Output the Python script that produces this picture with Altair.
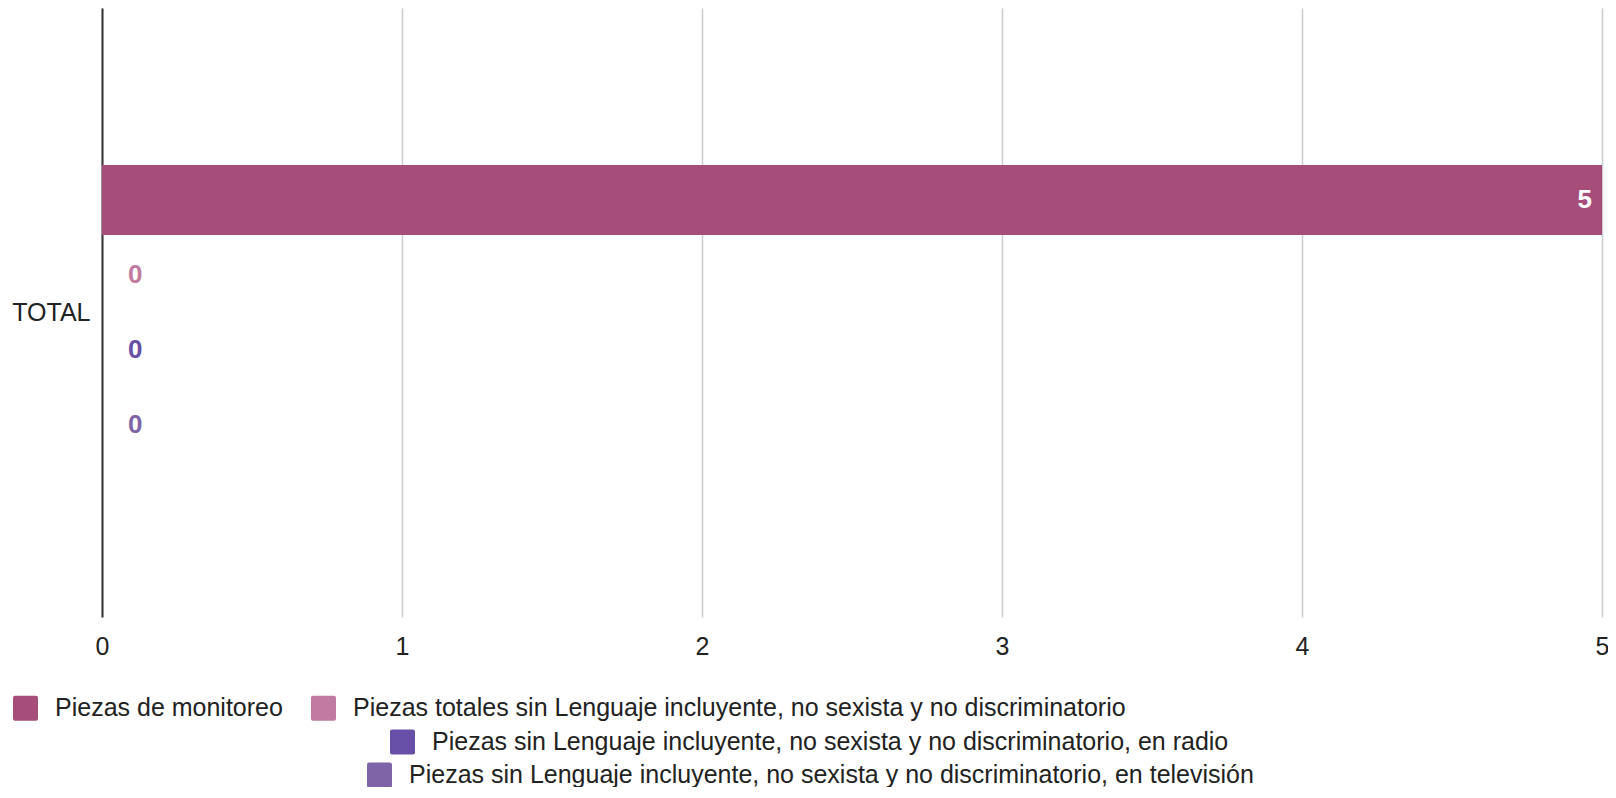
import altair as alt
import pandas as pd

# ---- data ----
categories = ["TOTAL"]
series = [
    "Piezas de monitoreo",
    "Piezas totales sin Lenguaje incluyente, no sexista y no discriminatorio",
    "Piezas sin Lenguaje incluyente, no sexista y no discriminatorio, en radio",
    "Piezas sin Lenguaje incluyente, no sexista y no discriminatorio, en televisión",
]
values = [5, 0, 0, 0]
x_ticks = [0, 1, 2, 3, 4, 5]

# ---- styles ----
colors = ["#a64d79", "#c27ba0", "#674ea7", "#8064a8"]
FONT = "Liberation Sans"
TXT = "#222222"
W, H = 1500, 609
ROUND_SQ = ("M-0.84,-1H0.84Q1,-1,1,-0.84V0.84Q1,1,0.84,1H-0.84"
            "Q-1,1,-1,0.84V-0.84Q-1,-1,-0.84,-1Z")

df = pd.DataFrame({
    "category": [categories[0]] * len(series),
    "series": series,
    "value": values,
})

x_enc = alt.X(
    "value:Q", title=None,
    scale=alt.Scale(domain=[0, 5], nice=False, zero=True),
    axis=alt.Axis(values=x_ticks, format="d", grid=True, gridColor="#cccccc",
                  gridWidth=1.5, domain=False, ticks=False, labelFont=FONT,
                  labelFontSize=25, labelColor=TXT, labelPadding=17,
                  labelFlush=False),
)
y_enc = alt.Y(
    "category:N", title=None,
    scale=alt.Scale(paddingInner=0, paddingOuter=0.515),
    axis=alt.Axis(domain=True, domainColor="#333333", domainWidth=2,
                  ticks=False, grid=False, labelFont=FONT, labelFontSize=25,
                  labelColor=TXT, labelPadding=12),
)
yoff_enc = alt.YOffset(
    "series:N", sort=series,
    scale=alt.Scale(domain=series, paddingInner=0.0667, paddingOuter=0.0333),
)

base = alt.Chart(df).encode(x=x_enc, y=y_enc, yOffset=yoff_enc)

groups = [[0, 1], [2], [3]]
legend_pos = [(-89, 687.5), (288, 721.5), (265, 754.5)]

layers = []
for grp, (lx, ly) in zip(groups, legend_pos):
    names = [series[i] for i in grp]
    cols = [colors[i] for i in grp]
    cscale = alt.Scale(domain=names, range=cols)
    sub = base.transform_filter(alt.FieldOneOfPredicate(field="series", oneOf=names))
    bars = sub.mark_bar().encode(
        color=alt.Color(
            "series:N", scale=cscale, sort=names,
            legend=alt.Legend(
                title=None, orient="none", legendX=lx, legendY=ly,
                direction="horizontal", symbolType=ROUND_SQ, symbolSize=625,
                symbolStrokeWidth=0, labelFont=FONT, labelFontSize=25,
                labelColor=TXT, labelOffset=17, labelLimit=2000,
                columnPadding=28, padding=0, rowPadding=0,
            ),
        )
    )
    zeros = sub.transform_filter("datum.value == 0").mark_text(
        align="left", baseline="middle", dx=26, font=FONT, fontSize=26,
        fontWeight="bold",
    ).encode(
        text="value:Q",
        color=alt.Color("series:N", scale=cscale, legend=None),
    )
    layers.append(alt.layer(bars, zeros))

inside = base.transform_filter("datum.value > 0").mark_text(
    align="right", baseline="middle", dx=-10, color="white", font=FONT,
    fontSize=26, fontWeight="bold",
).encode(text="value:Q")

chart = (
    alt.layer(*layers, inside)
    .resolve_scale(color="independent")
    .properties(
        width=W, height=H,
        padding={"left": 94, "top": 0, "right": 6, "bottom": 170},
        autosize=alt.AutoSizeParams(type="none"),
    )
    .configure_view(stroke=None)
)

chart.save("out.html", embed_options={"renderer": "svg", "actions": False})
